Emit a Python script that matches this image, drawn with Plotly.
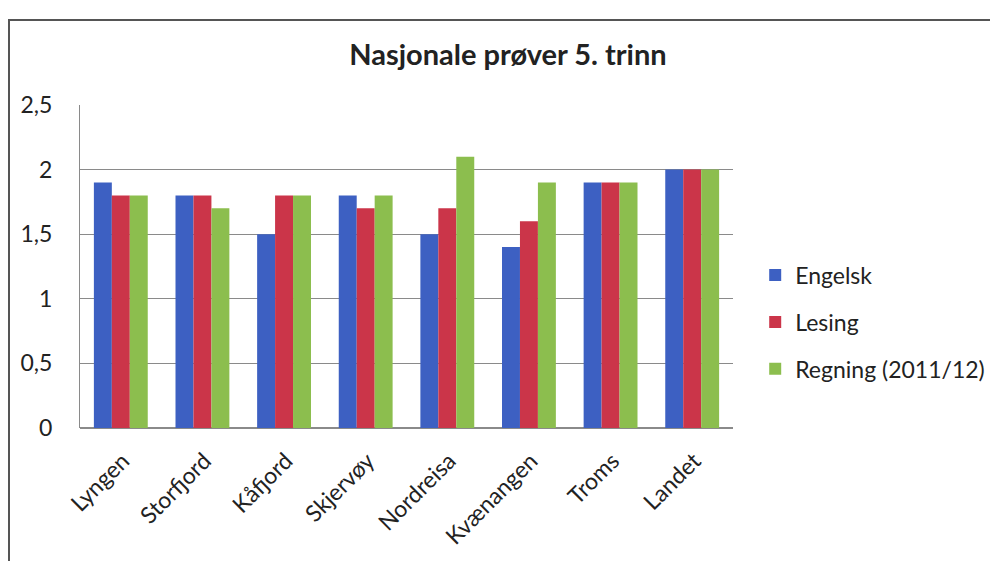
import plotly.graph_objects as go

categories = ["Lyngen", "Storfjord", "Kåfjord", "Skjervøy", "Nordreisa", "Kvænangen", "Troms", "Landet"]
engelsk = [1.9, 1.8, 1.5, 1.8, 1.5, 1.4, 1.9, 2.0]
lesing = [1.8, 1.8, 1.8, 1.7, 1.7, 1.6, 1.9, 2.0]
regning = [1.8, 1.7, 1.8, 1.8, 2.1, 1.9, 1.9, 2.0]
series_names = ["Engelsk", "Lesing", "Regning (2011/12)"]
y_ticks = [0, 0.5, 1, 1.5, 2, 2.5]
y_labels = ["0", "0,5", "1", "1,5", "2", "2,5"]

colors = ["#3D60C2", "#CB3549", "#8CBE4E"]
font = "Lato, 'Open Sans', sans-serif"

L, R, T, B = 72, 273, 97, 141
W, H = 998, 561
pw = W - L - R
ph = H - T - B

fig = go.Figure()
for name, vals, c in zip(series_names, [engelsk, lesing, regning], colors):
    fig.add_trace(go.Bar(x=categories, y=vals, name=name, legendgroup=name,
                         marker=dict(color=c, line=dict(width=0))))

fig.update_layout(
    width=W, height=H,
    margin=dict(l=L, r=R, t=T, b=B),
    paper_bgcolor="white", plot_bgcolor="white",
    barmode="group", bargap=0.34, bargroupgap=0,
    title=dict(text="<b>Nasjonale prøver 5. trinn</b>", x=0.501, xanchor="center", y=0.916, yanchor="middle",
               font=dict(family=font, size=29, color="#222")),
    font=dict(family=font, color="#222"),
    legend=dict(x=1.034, y=0.328, xref="paper", yref="paper", xanchor="left", yanchor="middle",
                font=dict(size=23, color="#222"),
                itemwidth=30, tracegroupgap=14, traceorder="grouped"),
    showlegend=True,
    xaxis=dict(tickangle=-45, tickfont=dict(size=23), showline=False, ticks="", showgrid=False,
               ticklabelstandoff=14, ticklabelshift=2),
    yaxis=dict(range=[0, 2.5], tickvals=y_ticks, ticktext=y_labels, tickfont=dict(size=23),
               showgrid=True, gridcolor="#8a8a8a", gridwidth=1, showline=True, linecolor="#8a8a8a",
               linewidth=1, zeroline=True, zerolinecolor="#8a8a8a", ticks="", ticklabelstandoff=22),
)
fig.add_shape(type="rect", xref="paper", yref="paper",
              x0=(1 - L) / pw, x1=(W + 20 - L) / pw,
              y0=-(B + 20) / ph, y1=(H - B - 12) / ph,
              line=dict(color="#555", width=2), layer="below")
fig.write_html("out.html")
